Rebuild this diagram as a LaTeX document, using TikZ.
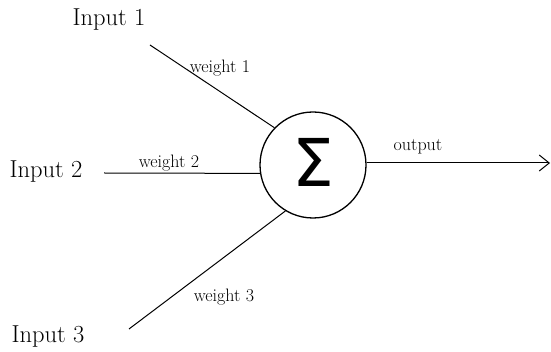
\documentclass[tikz,border=0pt]{standalone}
\usepackage{fontspec}
\newfontfamily\symfont{DejaVu Sans}
\usetikzlibrary{arrows.meta}
\begin{document}
\begin{tikzpicture}[x=1pt,y=-1pt,
  inlabel/.style={font=\fontsize{24.5}{28}\selectfont},
  wlabel/.style={font=\fontsize{18}{21}\selectfont},
  conn/.style={line width=1pt},
  sumnode/.style={circle,draw,line width=1.3pt,minimum size=106pt,inner sep=0pt}]
\useasboundingbox (0,0) rectangle (551,352);
\node[inlabel] (in1) at (109,20) {Input 1};
\node[inlabel] (in2) at (46,172) {Input 2};
\node[inlabel] (in3) at (48,337) {Input 3};
\node[sumnode] (sum) at (313,165) {\symfont\fontsize{66}{68}\selectfont\raisebox{5pt}{Σ}};
\coordinate (s1) at (150,45);
\coordinate (s2) at (104,173);
\coordinate (s3) at (129,329);
\coordinate (out) at (550,163);
\draw[conn] (s1) -- (sum.136);
\draw[conn] (s2) -- (sum.189);
\draw[conn] (s3) -- (sum.239);
\draw[conn,-{Straight Barb[length=10pt,width=16pt,line width=1pt]}] (sum.east |- out) -- (out);
\node[wlabel] (w1) at (220,68) {weight 1};
\node[wlabel] (w2) at (169,163) {weight 2};
\node[wlabel] (w3) at (224,297) {weight 3};
\node[wlabel] (o) at (418,147) {output};
\end{tikzpicture}
\end{document}
